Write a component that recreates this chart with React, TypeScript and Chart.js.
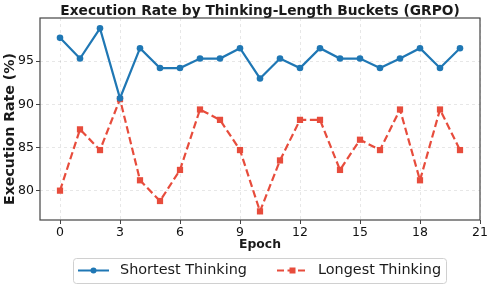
import React, { useEffect, useRef } from "react";
import { Chart, registerables } from "chart.js";

Chart.register(...registerables);

const chartTitle = "Execution Rate by Thinking-Length Buckets (GRPO)";
const xAxisTitle = "Epoch";
const yAxisTitle = "Execution Rate (%)";
const seriesNames = ["Shortest Thinking", "Longest Thinking"];

const epochs = [0, 1, 2, 3, 4, 5, 6, 7, 8, 9, 10, 11, 12, 13, 14, 15, 16, 17, 18, 19, 20];
const shortest = [97.7, 95.3, 98.8, 90.7, 96.5, 94.2, 94.2, 95.3, 95.3, 96.5, 93.0, 95.3, 94.2, 96.5, 95.3, 95.3, 94.2, 95.3, 96.5, 94.2, 96.5];
const longest = [80.0, 87.1, 84.7, 90.6, 81.2, 78.8, 82.4, 89.4, 88.2, 84.7, 77.6, 83.5, 88.2, 88.2, 82.4, 85.9, 84.7, 89.4, 81.2, 89.4, 84.7];

const xTicks = [0, 3, 6, 9, 12, 15, 18, 21];
const yTicks = [80, 85, 90, 95];

const BLUE = "#1f77b4";
const RED = "#e74c3c";
const FONT = "'DejaVu Sans', sans-serif";

function fitFont(ctx: CanvasRenderingContext2D, text: string, weight: string, target: number) {
  ctx.font = `${weight} 10px ${FONT}`;
  const w = ctx.measureText(text).width || 1;
  const size = (10 * target) / w;
  ctx.font = `${weight} ${size.toFixed(2)}px ${FONT}`;
}

const decorPlugin = {
  id: "decor",
  afterDatasetsDraw(chart: any) {
    const { ctx, chartArea } = chart;
    const { left, right, top, bottom } = chartArea;
    ctx.save();
    ctx.strokeStyle = "#444";
    ctx.lineWidth = 1.2;
    ctx.setLineDash([]);
    ctx.strokeRect(left, top, right - left, bottom - top);
    ctx.restore();
  },
  afterDraw(chart: any) {
    const { ctx, chartArea } = chart;
    const { left, right } = chartArea;
    const cx = (left + right) / 2;
    ctx.save();
    ctx.fillStyle = "#1a1a1a";
    ctx.textAlign = "center";
    ctx.textBaseline = "middle";
    // title
    fitFont(ctx, chartTitle, "bold", 400);
    ctx.fillText(chartTitle, cx, 11);
    // x title
    fitFont(ctx, xAxisTitle, "bold", 42);
    ctx.fillText(xAxisTitle, cx, 245);
    // y title
    ctx.save();
    ctx.translate(10.5, 129);
    ctx.rotate(-Math.PI / 2);
    fitFont(ctx, yAxisTitle, "bold", 152);
    ctx.fillText(yAxisTitle, 0, 0);
    ctx.restore();

    // legend
    const bx = 73.5, by = 258.5, bw = 373, bh = 25;
    ctx.beginPath();
    (ctx as any).roundRect(bx, by, bw, bh, 3);
    ctx.fillStyle = "rgba(255,255,255,0.8)";
    ctx.fill();
    ctx.strokeStyle = "#d0d0d0";
    ctx.lineWidth = 1;
    ctx.stroke();
    const ly = 270.5;
    ctx.strokeStyle = BLUE;
    ctx.lineWidth = 2;
    ctx.beginPath();
    ctx.moveTo(78, ly);
    ctx.lineTo(109, ly);
    ctx.stroke();
    ctx.fillStyle = BLUE;
    ctx.beginPath();
    ctx.arc(93.5, ly, 3, 0, Math.PI * 2);
    ctx.fill();
    ctx.strokeStyle = RED;
    ctx.setLineDash([7, 3.5]);
    ctx.beginPath();
    ctx.moveTo(277, ly);
    ctx.lineTo(308, ly);
    ctx.stroke();
    ctx.setLineDash([]);
    ctx.fillStyle = RED;
    ctx.fillRect(292.5 - 3, ly - 3, 6, 6);
    ctx.fillStyle = "#1a1a1a";
    fitFont(ctx, seriesNames[0], "normal", 127);
    ctx.textAlign = "left";
    ctx.textBaseline = "middle";
    ctx.fillText(seriesNames[0], 120, ly);
    ctx.fillText(seriesNames[1], 318, ly);
    ctx.restore();
  },
};

export default function App() {
  const canvasRef = useRef<HTMLCanvasElement | null>(null);

  useEffect(() => {
    const canvas = canvasRef.current;
    if (!canvas) return;
    const chart = new Chart(canvas, {
      type: "line",
      data: {
        datasets: [
          {
            label: seriesNames[0],
            data: epochs.map((e, i) => ({ x: e, y: shortest[i] })),
            borderColor: BLUE,
            backgroundColor: BLUE,
            borderWidth: 2.2,
            pointStyle: "circle",
            pointRadius: 3.3,
            pointBorderWidth: 0,
            pointBackgroundColor: BLUE,
            tension: 0,
          },
          {
            label: seriesNames[1],
            data: epochs.map((e, i) => ({ x: e, y: longest[i] })),
            borderColor: RED,
            backgroundColor: RED,
            borderWidth: 2.2,
            borderDash: [7.4, 3.6],
            pointStyle: "rect",
            pointRadius: 4.4,
            pointBorderWidth: 0,
            pointBackgroundColor: RED,
            tension: 0,
          },
        ],
      },
      options: {
        animation: false,
        responsive: false,
        devicePixelRatio: 1,
        layout: { padding: { left: 0, right: 13, top: 18, bottom: 37 } },
        plugins: {
          legend: { display: false },
          title: { display: false },
          tooltip: { enabled: false },
        },
        scales: {
          x: {
            type: "linear",
            min: -1,
            max: 21,
            afterBuildTicks: (scale: any) => {
              scale.ticks = xTicks.map((v) => ({ value: v }));
            },
            afterFit: (scale: any) => {
              scale.height = 32;
            },
            ticks: {
              color: "#111",
              font: { family: FONT, size: 12.5 },
              padding: 1,
              maxRotation: 0,
              autoSkip: false,
            },
            grid: {
              color: "rgba(0,0,0,0.12)",
              lineWidth: 0.8,
              drawTicks: true,
              tickLength: 4,
              tickColor: "#444",
              tickWidth: 1,
            },
            border: { display: false, dash: [3, 3] },
          },
          y: {
            type: "linear",
            min: 76.6,
            max: 100,
            afterBuildTicks: (scale: any) => {
              scale.ticks = yTicks.map((v) => ({ value: v }));
            },
            afterFit: (scale: any) => {
              scale.width = 40;
            },
            ticks: {
              color: "#111",
              font: { family: FONT, size: 12.5 },
              padding: 2,
            },
            grid: {
              color: "rgba(0,0,0,0.12)",
              lineWidth: 0.8,
              drawTicks: true,
              tickLength: 4,
              tickColor: "#444",
              tickWidth: 1,
            },
            border: { display: false, dash: [3, 3] },
          },
        },
      },
      plugins: [decorPlugin],
    } as any);
    return () => chart.destroy();
  }, []);

  return (
    <div style={{ position: "absolute", left: 0, top: 0, width: 493, height: 289, background: "#fff" }}>
      <canvas ref={canvasRef} width={493} height={289} style={{ display: "block" }} />
    </div>
  );
}
